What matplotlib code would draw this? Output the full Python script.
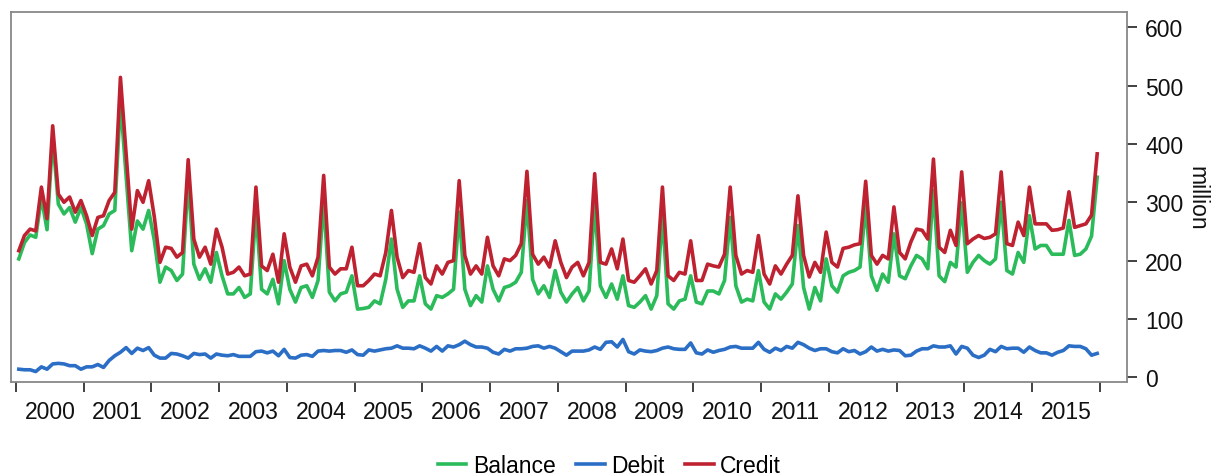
import numpy as np
import matplotlib
matplotlib.use("Agg")
import matplotlib.pyplot as plt
from matplotlib.ticker import FixedLocator, NullFormatter, FixedFormatter

plt.rcParams['font.family'] = ['Liberation Sans', 'DejaVu Sans']

years = list(range(2000, 2016))

# monthly values (million), Jan..Dec for each year
balance = [
    203, 231, 244, 240, 308, 253, 411, 297, 280, 291, 266, 291,  # 2000
    263, 212, 254, 260, 280, 286, 474, 345, 217, 268, 254, 286,  # 2001
    235, 163, 189, 183, 166, 177, 340, 194, 168, 186, 163, 214,  # 2002
    174, 143, 143, 154, 137, 143, 286, 151, 143, 168, 126, 200,  # 2003
    151, 129, 154, 157, 137, 166, 303, 146, 131, 143, 146, 174,  # 2004
    117, 118, 120, 131, 126, 168, 237, 151, 120, 131, 131, 174,  # 2005
    126, 117, 140, 137, 143, 151, 283, 151, 123, 140, 129, 191,  # 2006
    151, 131, 154, 157, 163, 180, 303, 168, 143, 157, 137, 183,  # 2007
    146, 129, 143, 154, 131, 148, 297, 157, 137, 160, 134, 174,  # 2008
    123, 120, 129, 140, 117, 140, 277, 126, 117, 131, 134, 174,  # 2009
    129, 126, 148, 148, 143, 166, 274, 157, 129, 134, 131, 183,  # 2010
    129, 117, 143, 134, 146, 160, 260, 154, 117, 154, 131, 203,  # 2011
    157, 146, 174, 180, 183, 189, 294, 174, 149, 177, 163, 246,  # 2012
    174, 169, 191, 209, 203, 186, 320, 174, 164, 197, 189, 299,  # 2013
    180, 197, 209, 200, 194, 203, 300, 183, 177, 214, 197, 277,  # 2014
    220, 226, 226, 211, 211, 211, 269, 209, 211, 220, 242, 343,  # 2015
]

debit = [
    14, 13, 13, 10, 18, 14, 23, 24, 23, 20, 20, 14,  # 2000
    18, 18, 22, 17, 29, 37, 43, 51, 41, 50, 46, 51,  # 2001
    38, 33, 33, 41, 40, 37, 33, 41, 39, 40, 33, 40,  # 2002
    38, 37, 39, 36, 36, 36, 44, 45, 42, 45, 37, 48,  # 2003
    34, 33, 38, 39, 36, 45, 46, 45, 46, 46, 43, 47,  # 2004
    39, 38, 47, 45, 47, 49, 50, 54, 50, 50, 49, 54,  # 2005
    50, 45, 53, 45, 54, 52, 56, 62, 56, 52, 52, 50,  # 2006
    43, 40, 48, 45, 49, 49, 50, 53, 54, 50, 53, 50,  # 2007
    44, 38, 45, 45, 45, 47, 52, 48, 60, 61, 52, 65,  # 2008
    44, 40, 47, 45, 44, 46, 50, 52, 49, 48, 48, 59,  # 2009
    42, 40, 47, 43, 46, 48, 52, 53, 50, 50, 50, 60,  # 2010
    48, 43, 50, 46, 53, 50, 60, 56, 50, 46, 49, 49,  # 2011
    44, 42, 49, 44, 46, 40, 44, 52, 45, 48, 45, 47,  # 2012
    46, 37, 38, 45, 49, 49, 54, 52, 52, 54, 40, 53,  # 2013
    50, 38, 34, 38, 48, 44, 53, 49, 50, 50, 43, 52,  # 2014
    46, 42, 42, 38, 43, 46, 54, 53, 53, 49, 38, 41,  # 2015
]

credit = [
    217, 243, 254, 251, 326, 272, 431, 314, 300, 309, 283, 303,  # 2000
    277, 243, 274, 277, 303, 317, 514, 385, 254, 320, 300, 337,  # 2001
    275, 197, 223, 221, 206, 214, 373, 237, 206, 223, 194, 254,  # 2002
    223, 177, 180, 189, 174, 177, 326, 191, 183, 211, 163, 246,  # 2003
    189, 163, 191, 194, 174, 206, 346, 189, 177, 186, 186, 223,  # 2004
    157, 157, 166, 177, 174, 214, 286, 206, 171, 183, 180, 229,  # 2005
    171, 160, 191, 177, 197, 200, 337, 209, 177, 191, 177, 240,  # 2006
    191, 174, 203, 200, 209, 229, 353, 211, 194, 206, 189, 234,  # 2007
    197, 171, 189, 197, 174, 197, 349, 197, 194, 220, 186, 237,  # 2008
    166, 163, 174, 186, 160, 183, 326, 174, 166, 180, 177, 234,  # 2009
    166, 166, 194, 191, 189, 211, 326, 209, 177, 183, 180, 243,  # 2010
    177, 160, 191, 177, 194, 209, 311, 209, 172, 197, 180, 249,  # 2011
    197, 189, 221, 223, 227, 229, 336, 209, 194, 209, 203, 292,  # 2012
    214, 203, 232, 254, 252, 237, 374, 223, 214, 252, 226, 352,  # 2013
    229, 237, 243, 238, 240, 246, 352, 229, 226, 266, 243, 326,  # 2014
    263, 263, 263, 252, 253, 256, 318, 257, 260, 263, 278, 383,  # 2015
]

# month midpoints as decimal years
x = np.array([y + (m + 0.5) / 12 for y in years for m in range(12)])

fig = plt.figure(figsize=(12.19, 4.77), dpi=100)
ax = fig.add_axes([0.009, 0.197, 0.9155, 0.7757])

lw = 2.6
ax.plot(x, balance, color='#2BBB5A', lw=lw, label='Balance')
ax.plot(x, debit, color='#2B6EC6', lw=lw, label='Debit')
ax.plot(x, credit, color='#BE2230', lw=lw, label='Credit')

ax.set_xlim(1999.926, 2016.398)
ax.set_ylim(-8, 626)

fs = 16.5

# year ticks at Jan 1, labels in the middle of the year
ax.xaxis.set_major_locator(FixedLocator(years + [years[-1] + 1]))
ax.xaxis.set_major_formatter(NullFormatter())
ax.xaxis.set_minor_locator(FixedLocator([y + 0.5 for y in years]))
ax.xaxis.set_minor_formatter(FixedFormatter([str(y) for y in years]))
ax.tick_params(axis='x', which='major', direction='out', length=7, width=1.3, color='#333333')
ax.tick_params(axis='x', which='minor', length=0, pad=13, labelsize=fs, labelcolor='#111111')

ax.yaxis.tick_right()
ax.yaxis.set_label_position('right')
ax.set_yticks(np.arange(0, 601, 100))
ax.tick_params(axis='y', direction='out', length=7, width=1.3, color='#333333',
               pad=6, labelsize=fs, labelcolor='#111111')
ax.set_ylabel('million', rotation=-90, fontsize=fs, labelpad=18, color='#111111')

for s in ax.spines.values():
    s.set_color('#888888')
    s.set_linewidth(1.3)

fig.legend(loc='center', bbox_to_anchor=(0.5, 0.023), ncol=3, frameon=False,
           fontsize=fs, handlelength=1.25, handletextpad=0.28, columnspacing=0.9)

fig.savefig('out.png', dpi=100)
